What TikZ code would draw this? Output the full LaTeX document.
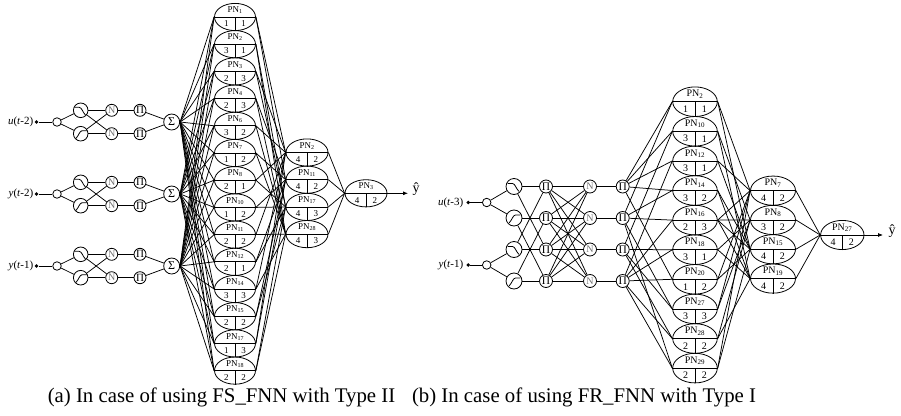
\documentclass[tikz,border=0pt]{standalone}
\usepackage{fontspec}
\setmainfont{Liberation Serif}
\usetikzlibrary{shapes.geometric,arrows.meta}
\newcommand\pnode[8]{%
  \pgfmathsetmacro\pnW{2*#4}\pgfmathsetmacro\pnH{2*#5}%
  \pgfmathsetmacro\pnDy{0.5*#5}\pgfmathsetmacro\pnDx{0.42*#4}%
  \pgfmathsetmacro\pnY{#3}%
  \node[pnshape,minimum width=\pnW pt,minimum height=\pnH pt] (#1) at (#2,\pnY) {};
  \draw[pnline] (#1.west) -- (#1.east) (#1.center) -- (#1.south);
  \node[pntext] (#1-t) at ([yshift=\pnDy pt]#1.center) {PN\textsubscript{#6}};
  \node[pntext] (#1-a) at ([xshift=-\pnDx pt,yshift=-\pnDy pt]#1.center) {#7};
  \node[pntext] (#1-b) at ([xshift=\pnDx pt,yshift=-\pnDy pt]#1.center) {#8};
}
\newcommand\mfdown[1]{\begin{scope}[shift={(#1.center)}]
  \draw[mfcurve] (-6.3pt,3pt) -- (-1.5pt,3pt) .. controls (1pt,3pt) and (2pt,-2pt) .. (4.8pt,-4.8pt);
\end{scope}}
\newcommand\mfup[1]{\begin{scope}[shift={(#1.center)}]
  \draw[mfcurve] (-4.8pt,-4.8pt) .. controls (-2pt,-2pt) and (-1pt,3pt) .. (1.5pt,3pt) -- (6.3pt,3pt);
\end{scope}}
\begin{document}
\begin{tikzpicture}[x=1pt,y=-1pt,
  lab/.style={font=\fontsize{11}{13}\selectfont,inner sep=0pt},
  dotn/.style={circle,fill,inner sep=0pt,minimum size=3.8pt},
  smallc/.style={circle,draw,line width=0.8pt,inner sep=0pt,minimum size=8.5pt},
  mfc/.style={circle,draw,line width=0.8pt,inner sep=0pt,minimum size=14.6pt},
  opc/.style={circle,draw,line width=0.8pt,inner sep=0pt,minimum size=12pt,font=\fontsize{11}{11}\selectfont},
  nc/.style={opc,text=black!55,font=\fontsize{10}{10}\selectfont},
  sumc/.style={circle,draw,line width=0.8pt,inner sep=0pt,minimum size=16pt,font=\fontsize{12}{12}\selectfont},
  conn/.style={line width=0.75pt},
  mfcurve/.style={line width=0.8pt},
  pnshape/.style={ellipse,draw,line width=0.8pt,inner sep=0pt},
  pnline/.style={line width=0.75pt},
  pntext/.style={font=\fontsize{9}{9}\selectfont,inner sep=0pt},
  captext/.style={font=\fontsize{20.8}{24}\selectfont,inner sep=0pt},
  outarrow/.style={line width=0.75pt,-{Latex[length=5pt,width=4pt]}}
]
\useasboundingbox (0,0) rectangle (901,415);

% ================= (a) =================
\foreach \r/\yy/\lab in {1/122/{\textit{u}(\textit{t}-2)},2/194/{\textit{y}(\textit{t}-2)},3/266/{\textit{y}(\textit{t}-1)}}{
  \node[lab,anchor=east] (aL\r) at (33.5,\yy) {\lab};
  \node[dotn] (aD\r) at (36.5,\yy) {};
  \node[smallc] (aC\r) at (57,\yy) {};
  \node[mfc] (aMa\r) at (80.7,\yy-11.7) {};
  \node[mfc] (aMb\r) at (80.7,\yy+11.7) {};
  \node[nc] (aNa\r) at (111.7,\yy-11.7) {N};
  \node[nc] (aNb\r) at (111.7,\yy+11.7) {N};
  \node[opc] (aPa\r) at (140,\yy-11.7) {Π};
  \node[opc] (aPb\r) at (140,\yy+11.7) {Π};
  \node[sumc] (aS\r) at (171.7,\yy) {Σ};
  \mfdown{aMa\r}
  \mfup{aMb\r}
  \draw[conn] (aD\r) -- (aC\r);
  \draw[conn] (aC\r) -- (aMa\r);
  \draw[conn] (aC\r) -- (aMb\r);
  \draw[conn] (aMa\r) -- (aNa\r);
  \draw[conn] (aMa\r) -- (aNb\r);
  \draw[conn] (aMb\r) -- (aNa\r);
  \draw[conn] (aMb\r) -- (aNb\r);
  \draw[conn] (aNa\r) -- (aPa\r);
  \draw[conn] (aNb\r) -- (aPb\r);
  \draw[conn] (aPa\r) -- (aS\r);
  \draw[conn] (aPb\r) -- (aS\r);
}

\foreach \i/\k/\a/\b in {0/1/1/1,1/2/3/1,2/3/2/3,3/4/2/3,4/6/3/2,5/7/1/2,6/8/2/1,7/10/1/2,8/11/2/2,9/12/2/1,10/14/3/3,11/15/2/2,12/17/1/3,13/18/2/2}{
  \pnode{aP\k}{235}{17+27.2*\i}{20.5}{13.6}{\k}{\a}{\b}
}
\foreach \j/\k/\a/\b in {1/2/4/2,2/11/4/2,3/17/4/3,4/28/4/3}{
  \pnode{aQ\j}{307}{193.3+27.2*\j-68}{21}{13.6}{\k}{\a}{\b}
}
\pnode{aR}{366}{193.3}{21}{13.6}{3}{4}{2}

\foreach \k in {1,2,3,4,6,7,8,10,11,12,14,15,17,18}{
  \foreach \r in {1,2,3}{\draw[conn] (aS\r.east) -- (aP\k.west);}
}
\foreach \k/\p/\q in {1/1/2,2/3/4,3/1/3,4/2/4,6/1/4,7/2/4,8/1/3,10/2/3,11/1/4,12/2/3,14/1/4,15/2/3,17/1/2,18/3/4}{
  \draw[conn] (aP\k.east) -- (aQ\p.west);
  \draw[conn] (aP\k.east) -- (aQ\q.west);
}
\foreach \j in {1,2,3,4}{\draw[conn] (aQ\j.east) -- (aR.west);}
\coordinate (aOut) at (408,193.3);
\draw[outarrow] (aR.east) -- (aOut);
\node[font=\fontsize{14}{14}\selectfont,inner sep=0pt] (aY) at (416,189) {ŷ};

% ================= (b) =================
\tikzset{pntext/.style={font=\fontsize{10}{10}\selectfont,inner sep=0pt},
  opc/.style={circle,draw,line width=0.8pt,inner sep=0pt,minimum size=13pt,font=\fontsize{11.5}{11.5}\selectfont},
  mfc/.style={circle,draw,line width=0.8pt,inner sep=0pt,minimum size=16pt}}
\node[lab,anchor=east] (bL1) at (463.5,202.5) {\textit{u}(\textit{t}-3)};
\node[lab,anchor=east] (bL2) at (463.5,265) {\textit{y}(\textit{t}-1)};
\node[dotn] (bD1) at (468.3,202.5) {};
\node[dotn] (bD2) at (468.3,265) {};
\node[smallc] (bC1) at (486.7,202.5) {};
\node[smallc] (bC2) at (486.7,265) {};
\draw[conn] (bD1) -- (bC1);
\draw[conn] (bD2) -- (bC2);
\foreach \i/\yy in {1/186.5,2/218,3/249.5,4/281}{
  \node[mfc] (bM\i) at (514,\yy) {};
  \node[opc] (bP\i) at (546,\yy) {Π};
  \node[nc] (bN\i) at (590,\yy) {N};
  \node[opc] (bQ\i) at (622.7,\yy) {Π};
  \draw[conn] (bM\i) -- (bP\i);
  \draw[conn] (bN\i) -- (bQ\i);
}
\mfdown{bM1}\mfup{bM2}\mfdown{bM3}\mfup{bM4}
\draw[conn] (bC1) -- (bM1);
\draw[conn] (bC1) -- (bM2);
\draw[conn] (bC2) -- (bM3);
\draw[conn] (bC2) -- (bM4);
\draw[conn] (bM1) -- (bP3);
\draw[conn] (bM3) -- (bP1);
\draw[conn] (bM2) -- (bP4);
\draw[conn] (bM4) -- (bP2);
\foreach \i in {1,2,3,4}{\foreach \j in {1,2,3,4}{\draw[conn] (bP\i) -- (bN\j);}}

\foreach \i/\k/\a/\b in {0/2/1/1,1/10/3/1,2/12/3/1,3/14/3/2,4/16/2/3,5/18/3/1,6/20/1/2,7/27/3/3,8/28/2/2,9/29/2/2}{
  \pnode{bA\k}{695}{101.7+29.6*\i}{22.3}{14.8}{\k}{\a}{\b}
}
\foreach \j/\k/\a/\b in {1/7/4/2,2/8/3/2,3/15/4/2,4/19/4/2}{
  \pnode{bB\j}{773}{234.6+29.3*\j-73.25}{22.5}{14.6}{\k}{\a}{\b}
}
\pnode{bR}{842.3}{235}{21.7}{14.6}{27}{4}{2}

\foreach \k/\p/\q in {2/1/2,10/1/3,12/1/4,14/1/2,16/2/4,18/3/4,20/4/1,27/2/3,28/3/4,29/2/4}{
  \draw[conn] (bQ\p) -- (bA\k.west);
  \draw[conn] (bQ\q) -- (bA\k.west);
}
\foreach \k/\p/\q in {2/1/3,10/2/4,12/1/3,14/3/4,18/2/4,20/1/3,27/1/2,28/2/4,29/1/3}{
  \draw[conn] (bA\k.east) -- (bB\p.west);
  \draw[conn] (bA\k.east) -- (bB\q.west);
}
\foreach \j in {1,2,3,4}{\draw[conn] (bA16.east) -- (bB\j.west);}
\foreach \j in {1,2,3,4}{\draw[conn] (bB\j.east) -- (bR.west);}
\coordinate (bOut) at (883,235);
\draw[outarrow] (bR.east) -- (bOut);
\node[font=\fontsize{14}{14}\selectfont,inner sep=0pt] (bY) at (892,231) {ŷ};

% captions
\node[captext] (capA) at (221.5,397) {(a) In case of using FS\_FNN with Type II};
\node[captext] (capB) at (584,397) {(b) In case of using FR\_FNN with Type I};
\end{tikzpicture}
\end{document}
